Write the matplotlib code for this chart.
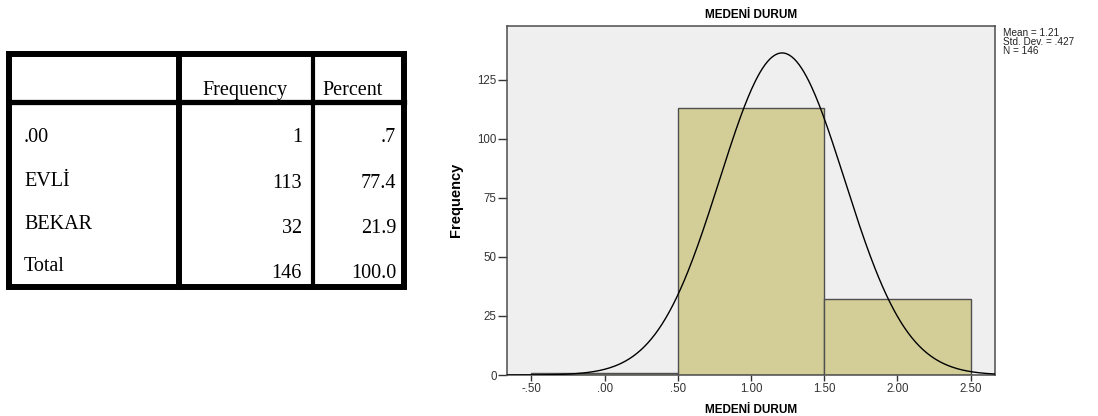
import numpy as np
import matplotlib.pyplot as plt

############################################################################
#                               Data                                       #
############################################################################

row_labels   = ['.00', 'EVLİ', 'BEKAR', 'Total']
freq_text    = ['1', '113', '32', '146']
pct_text     = ['.7', '77.4', '21.9', '100.0']
col_headers  = ['Frequency', 'Percent']

codes  = [0, 1, 2]          # category codes on the histogram axis
counts = [1, 113, 32]       # frequency of each code

x_ticks      = [-0.5, 0.0, 0.5, 1.0, 1.5, 2.0, 2.5]
x_ticklabels = ['-.50', '.00', '.50', '1.00', '1.50', '2.00', '2.50']
y_ticks      = [0, 25, 50, 75, 100, 125]

var_name = 'MEDENİ DURUM'

############################################################################
#                             Program Start                                #
############################################################################

W, H = 1098, 416
fig = plt.figure(figsize=(W / 100, H / 100), dpi=100)

# full figure overlay in pixel units for the frequency table
tab = fig.add_axes([0, 0, 1, 1])
tab.set_xlim(0, W)
tab.set_ylim(H, 0)
tab.axis('off')

# table borders
x_left, x_c1, x_c2, x_right = 9, 178.5, 313, 404
y_top, y_head, y_bot = 53.5, 101.7, 287
tab.plot([x_left, x_right, x_right, x_left, x_left],
         [y_top, y_top, y_bot, y_bot, y_top], color='k', lw=4.3,
         solid_joinstyle='miter')
tab.plot([x_left, x_right], [y_head, y_head], color='k', lw=3.8)
tab.plot([x_c1, x_c1], [y_top, y_bot], color='k', lw=4.3)
tab.plot([x_c2, x_c2], [y_top, y_bot], color='k', lw=3.0)

serif = 'Liberation Serif'
fs = 14.5
tab.text(245, 95, col_headers[0], fontsize=fs, family=serif, ha='center', va='baseline')
tab.text(353, 95, col_headers[1], fontsize=fs, family=serif, ha='center', va='baseline')

label_base = [142, 186, 229, 271]
num_base   = [142, 188, 233, 278]
for i in range(len(row_labels)):
    tab.text(24, label_base[i], row_labels[i], fontsize=fs, family=serif, va='baseline')
    tab.text(302, num_base[i], freq_text[i], fontsize=fs, family=serif, ha='right', va='baseline')
    tab.text(396, num_base[i], pct_text[i], fontsize=fs, family=serif, ha='right', va='baseline')

# histogram axes
ax = fig.add_axes([507 / W, (H - 375) / H, 488 / W, 349.3 / H])
ax.set_facecolor('#efefef')

ax.bar(codes, counts, width=1.0, color='#d3ce98', edgecolor='#4f4f4f', linewidth=1.0, zorder=2)

# normal curve from the counts
vals = np.repeat(codes, counts)
mean = vals.mean()
sd   = vals.std(ddof=1)
n    = len(vals)
ax.set_xlim(-2 / 3, 8 / 3)
ax.set_ylim(0, 148)
xs = np.linspace(-2 / 3, 8 / 3, 400)
ys = n * 1.0 * np.exp(-0.5 * ((xs - mean) / sd) ** 2) / (sd * np.sqrt(2 * np.pi))
ax.plot(xs, ys, color='k', lw=1.0, zorder=3)

for s in ax.spines.values():
    s.set_color('#4d4d4d')
    s.set_linewidth(1.1)

ax.set_xticks(x_ticks)
ax.set_xticklabels(x_ticklabels)
ax.set_yticks(y_ticks)
ax.tick_params(axis='x', length=4, width=1, color='#333333', pad=2,
               labelsize=8.3, labelcolor='#333333')
ax.tick_params(axis='y', length=6.5, width=1, color='#333333', pad=1,
               labelsize=8.3, labelcolor='#333333')
for lab in ax.get_xticklabels() + ax.get_yticklabels():
    lab.set_family('Liberation Sans')

ax.set_title(var_name, fontsize=8.5, fontweight='bold', family='Liberation Sans', pad=5.5)
ax.set_xlabel(var_name, fontsize=8.5, fontweight='bold', family='Liberation Sans')
ax.xaxis.set_label_coords(0.5, -0.0816)
ax.set_ylabel('Frequency', fontsize=10.5, fontweight='bold',
              family=['Liberation Sans Narrow', 'Liberation Sans'])
ax.yaxis.set_label_coords(-0.09, 0.5)

# statistics box to the right of the plot
stat_lines = ['Mean = %.2f' % mean,
              'Std. Dev. = %s' % ('%.3f' % sd).lstrip('0'),
              'N = %d' % n]
for i, line in enumerate(stat_lines):
    tab.text(1003, 33 + 9.2 * i, line, fontsize=7.2, family='Liberation Sans',
             color='#222222', va='center')

fig.savefig('out.png', dpi=100)
